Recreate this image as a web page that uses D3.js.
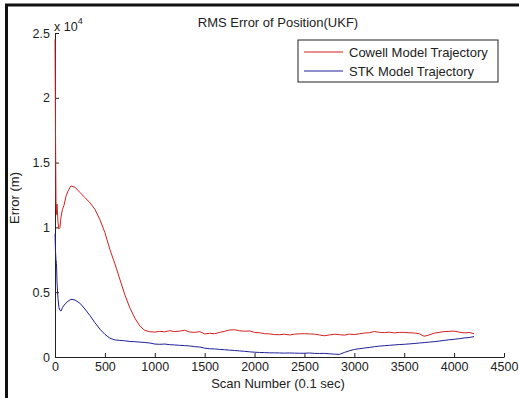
<!DOCTYPE html>
<html>
<head>
<meta charset="utf-8">
<script src="https://cdn.jsdelivr.net/npm/d3@7"></script>
<style>
	body { margin: 0; background: #fff; }
	text { font-family: "Liberation Sans", Arial, sans-serif; fill: #222; }
</style>
</head>
<body>
<div class="container"></div>
<script>
// scan numbers shared by both series
var scans = [0, 5, 10, 15, 20, 30, 40, 50, 60, 75, 90, 110, 130, 160, 200, 250, 300, 350, 400, 450,
	500, 550, 600, 650, 700, 750, 800, 850, 900, 950, 1000, 1050, 1100, 1150, 1200, 1250, 1300, 1350,
	1400, 1450, 1500, 1550, 1600, 1650, 1700, 1750, 1800, 1850, 1900, 1950, 2000, 2050, 2100, 2150,
	2200, 2250, 2300, 2350, 2400, 2450, 2500, 2550, 2600, 2650, 2700, 2750, 2800, 2850, 2900, 2950,
	3000, 3050, 3100, 3150, 3200, 3250, 3300, 3350, 3400, 3450, 3500, 3550, 3600, 3650, 3700, 3750,
	3800, 3850, 3900, 3950, 4000, 4050, 4100, 4150, 4200];

var cowellErr = [24500, 17500, 12000, 11000, 11800, 10400, 9900, 10000, 10800, 11400, 11700, 12400, 12800, 13200, 13100, 12700, 12300, 11900, 11400, 10600,
	9600, 8300, 7200, 6000, 4800, 3800, 3000, 2400, 2050, 1950, 1920, 1980, 1940, 2030, 1960, 2000, 2060, 1930,
	1900, 1960, 1780, 1830, 1800, 1900, 1980, 2080, 2100, 2020, 1990, 2010, 1900, 1870, 1800, 1780,
	1730, 1720, 1760, 1700, 1760, 1790, 1800, 1780, 1760, 1700, 1640, 1700, 1760, 1720, 1690, 1770,
	1730, 1790, 1850, 1870, 1970, 1900, 1880, 1920, 1860, 1900, 1900, 1870, 1850, 1800, 1600, 1700,
	1840, 1900, 1960, 1980, 2000, 1920, 1860, 1890, 1800];

var stkErr = [9500, 8200, 7500, 7200, 5800, 4500, 3800, 3600, 3550, 3800, 4000, 4150, 4300, 4450, 4400, 4150, 3700, 3200, 2650, 2150,
	1750, 1450, 1320, 1280, 1250, 1200, 1180, 1150, 1120, 1080, 1000, 980, 1000, 950, 930, 900, 880, 850,
	800, 770, 680, 640, 620, 590, 560, 530, 500, 470, 440, 400, 370, 350, 340, 320,
	320, 310, 300, 310, 300, 290, 290, 310, 280, 270, 280, 250, 220, 200, 350, 480,
	580, 640, 690, 740, 790, 840, 870, 900, 930, 960, 980, 1010, 1040, 1080, 1110, 1150,
	1180, 1230, 1280, 1330, 1370, 1410, 1470, 1500, 1580];

var xTicks = [0, 500, 1000, 1500, 2000, 2500, 3000, 3500, 4000, 4500];
var yTicks = [0, 5000, 10000, 15000, 20000, 25000];
var seriesNames = ["Cowell Model Trajectory", "STK Model Trajectory"];
var seriesColors = ["#d41f1f", "#1f1f9c"];

var width = 519, height = 398;

var svg = d3.select(".container").append("svg")
	.attr("width", width)
	.attr("height", height);

svg.append("rect")
	.attr("width", "100%")
	.attr("height", "100%")
	.attr("fill", "white");

// frame edges (top and left only)
svg.append("line")
	.attr("x1", 5).attr("y1", 5).attr("x2", width).attr("y2", 5)
	.attr("stroke", "#111").attr("stroke-width", 3);
svg.append("line")
	.attr("x1", 6.5).attr("y1", 4).attr("x2", 6.5).attr("y2", height)
	.attr("stroke", "#111").attr("stroke-width", 3);

var x = d3.scaleLinear().domain([0, 4500]).range([55, 504]);
var y = d3.scaleLinear().domain([0, 25000]).range([357, 33]);

var xAxis = svg.append("g")
	.attr("transform", "translate(0,357)")
	.call(d3.axisBottom(x).tickValues(xTicks).tickFormat(d3.format("d"))
		.tickSizeInner(-4).tickSizeOuter(0).tickPadding(5));

var yAxis = svg.append("g")
	.attr("transform", "translate(55,0)")
	.call(d3.axisLeft(y).tickValues(yTicks).tickFormat(d => d / 10000)
		.tickSizeInner(-4).tickSizeOuter(0).tickPadding(5));

[xAxis, yAxis].forEach(g => {
	g.select(".domain").attr("stroke", "#222");
	g.selectAll(".tick line").attr("stroke", "#222");
	g.selectAll(".tick text")
		.attr("fill", "#222")
		.style("font-size", "12.5px")
		.style("font-family", "'Liberation Sans', Arial, sans-serif");
});

var line = d3.line()
	.x((d, i) => x(scans[i]))
	.y(d => y(d));

[cowellErr, stkErr].forEach((vals, k) => {
	svg.append("path")
		.datum(vals)
		.attr("fill", "none")
		.attr("stroke", seriesColors[k])
		.attr("stroke-width", 1)
		.attr("d", line);
});

// exponent label
var expo = svg.append("text")
	.attr("x", 54)
	.attr("y", 30.5)
	.style("font-size", "12.5px");
expo.append("tspan").text("x 10");
expo.append("tspan").attr("dy", -7).style("font-size", "9px").text("4");

svg.append("text")
	.attr("x", 278)
	.attr("y", 27)
	.attr("text-anchor", "middle")
	.style("font-size", "13px")
	.text("RMS Error of Position(UKF)");

svg.append("text")
	.attr("x", 278)
	.attr("y", 388)
	.attr("text-anchor", "middle")
	.style("font-size", "13px")
	.text("Scan Number (0.1 sec)");

svg.append("text")
	.attr("transform", "translate(19,198) rotate(-90)")
	.attr("text-anchor", "middle")
	.style("font-size", "13px")
	.text("Error (m)");

// legend
var legend = svg.append("g");
legend.append("rect")
	.attr("x", 298).attr("y", 40)
	.attr("width", 200).attr("height", 42)
	.attr("fill", "white")
	.attr("stroke", "#222")
	.attr("stroke-width", 1);

seriesNames.forEach((name, i) => {
	var ly = 52 + i * 19;
	legend.append("line")
		.attr("x1", 304).attr("x2", 343)
		.attr("y1", ly).attr("y2", ly)
		.attr("stroke", seriesColors[i]);
	legend.append("text")
		.attr("x", 349)
		.attr("y", ly)
		.attr("dy", "0.36em")
		.style("font-size", "13px")
		.text(name);
});
</script>
</body>
</html>
